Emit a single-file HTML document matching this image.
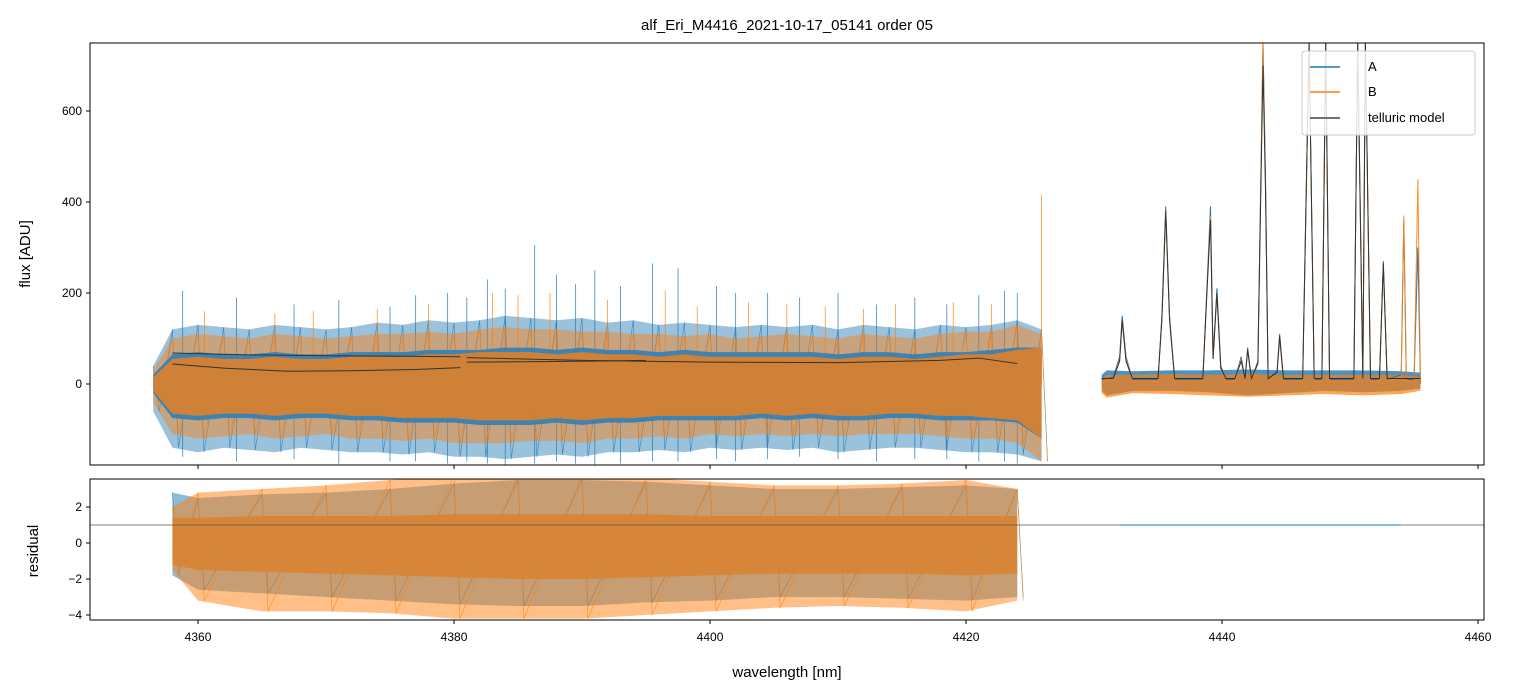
<!DOCTYPE html>
<html><head><meta charset="utf-8">
<style>
body{margin:0;background:#fff;}
svg{display:block;font-family:"Liberation Sans",sans-serif;}
</style></head>
<body>
<svg id="chart" width="1513" height="696" xmlns="http://www.w3.org/2000/svg">
<defs>
<clipPath id="cTop"><rect x="90" y="43" width="1394" height="422"/></clipPath>
<clipPath id="cBot"><rect x="90" y="479" width="1394" height="141"/></clipPath>
</defs>
<text x="787" y="30" text-anchor="middle" font-size="15">alf_Eri_M4416_2021-10-17_05141  order 05</text>
<g id="gtop" clip-path="url(#cTop)"></g>
<g id="gbot" clip-path="url(#cBot)"></g>
<rect x="90" y="43" width="1394" height="422" fill="none" stroke="#000" stroke-width="1"/>
<rect x="90" y="479" width="1394" height="141" fill="none" stroke="#000" stroke-width="1"/>
<g id="axes"></g>
<text transform="translate(30,254) rotate(-90)" text-anchor="middle" font-size="15">flux [ADU]</text>
<text transform="translate(38,551) rotate(-90)" text-anchor="middle" font-size="15">residual</text>
<text x="787" y="677" text-anchor="middle" font-size="15">wavelength [nm]</text>
<g>
<rect x="1302" y="51" width="173" height="84" fill="#fff" fill-opacity="0.85" stroke="#ccc" rx="3"/>
<line x1="1310" y1="67" x2="1340" y2="67" stroke="#1f77b4" stroke-width="1.5"/>
<text x="1368" y="71" font-size="13">A</text>
<line x1="1310" y1="92" x2="1340" y2="92" stroke="#ff7f0e" stroke-width="1.5"/>
<text x="1368" y="96" font-size="13">B</text>
<line x1="1310" y1="118" x2="1340" y2="118" stroke="#444" stroke-width="1.5"/>
<text x="1368" y="122" font-size="13">telluric model</text>
</g>
</svg>
<script>
const xTicks=[4360,4380,4400,4420,4440,4460];
const yTicksTop=[0,200,400,600];
const yTicksBot=[-4,-2,0,2];
const envWl=[4356.5,4358,4360,4362,4364,4366,4368,4370,4372,4374,4376,4378,4380,4382,4384,4386,4388,4390,4392,4394,4396,4398,4400,4402,4404,4406,4408,4410,4412,4414,4416,4418,4420,4422,4424,4425.9];
const aHi=[40,120,130,125,120,130,125,120,125,135,130,140,135,140,150,145,140,145,135,140,130,135,130,125,130,125,130,120,130,125,120,130,125,130,140,120];
const aLo=[-60,-140,-150,-140,-145,-150,-140,-145,-150,-150,-155,-150,-160,-160,-165,-160,-155,-160,-150,-150,-145,-150,-140,-145,-140,-145,-140,-150,-145,-140,-140,-145,-150,-150,-155,-170];
const bHi=[30,100,110,105,100,110,105,100,105,110,110,115,110,120,125,120,120,115,115,110,110,105,110,100,105,110,105,100,110,105,100,110,115,115,130,110];
const bLo=[-40,-110,-120,-115,-110,-120,-115,-110,-120,-120,-125,-120,-130,-130,-130,-125,-125,-130,-120,-120,-115,-120,-110,-115,-110,-115,-110,-115,-110,-110,-110,-115,-120,-120,-130,-170];
const aCoreHi=[20,65,70,65,65,70,65,65,70,70,70,75,75,75,80,80,75,80,75,75,70,75,70,70,70,70,70,65,70,70,65,70,70,75,80,80];
const aCoreLo=[-20,-75,-80,-75,-75,-80,-75,-75,-80,-80,-85,-85,-85,-90,-90,-90,-85,-90,-85,-85,-80,-80,-80,-80,-75,-80,-75,-80,-80,-75,-75,-80,-80,-80,-85,-120];
const bCoreHi=[15,55,60,55,55,60,55,55,60,60,60,65,65,70,70,70,65,70,65,65,60,65,60,60,60,60,60,55,60,60,55,60,65,65,75,80];
const bCoreLo=[-15,-65,-70,-65,-65,-70,-65,-65,-70,-70,-75,-75,-75,-80,-80,-80,-75,-80,-75,-75,-70,-70,-70,-70,-65,-70,-65,-70,-70,-65,-65,-70,-70,-75,-80,-120];
const aSpikeWl=[4358.8,4363,4367.5,4371,4375,4377,4379.5,4381,4382.6,4384,4386.3,4388,4389.5,4391,4393,4395.5,4397.5,4400.5,4402,4404.5,4407,4410,4413,4416,4418.5,4421,4423,4424];
const aSpikeV=[205,190,175,185,170,195,200,190,230,210,305,240,220,250,215,265,255,215,200,200,190,200,175,190,175,195,205,200];
const aSpikeLow=[-160,-170,-165,-175,-170,-170,-175,-170,-175,-180,-175,-170,-175,-180,-175,-170,-170,-165,-170,-165,-160,-165,-170,-165,-165,-170,-170,-175];
const bSpikeWl=[4360.5,4366,4369,4374,4378,4383,4385,4387.5,4392,4396.5,4399,4403,4406,4409,4412,4414.5,4419,4422,4425.9];
const bSpikeV=[160,155,160,165,175,200,195,200,185,205,170,180,175,170,165,175,180,175,415];
const rWl=[4430.6,4431.5,4432.0,4432.2,4432.5,4433,4435.0,4435.3,4435.6,4435.9,4436.3,4438.5,4438.8,4439.1,4439.3,4439.6,4439.9,4440.3,4441.0,4441.5,4441.8,4442.0,4442.3,4442.8,4443.2,4443.4,4443.6,4444.3,4444.5,4444.8,4446.3,4446.8,4447.2,4447.8,4448.1,4448.4,4449.5,4450.3,4450.6,4451.0,4451.2,4451.6,4452.3,4452.6,4452.9,4454.0,4454.2,4454.4,4455.0,4455.3,4455.5];
const rA=[10,15,60,150,60,10,10,150,390,150,10,10,200,390,60,210,40,10,10,60,10,80,10,50,750,450,10,30,110,10,10,750,10,10,750,10,10,10,750,10,750,10,10,270,10,20,360,10,10,300,0];
const rB=[5,10,55,140,55,5,5,145,380,145,5,5,190,370,55,200,35,5,5,55,5,75,5,45,750,430,5,25,100,5,5,750,5,5,750,5,5,5,750,5,750,5,5,260,5,15,370,5,5,450,0];
const rModel=[12,12,50,140,50,12,12,140,380,140,12,12,190,360,55,200,35,12,12,50,12,75,12,45,700,420,12,25,105,12,12,750,12,12,750,12,12,12,750,12,750,12,12,265,12,12,12,12,12,12,12];
const rNoiseWl=[4430.6,4431,4433,4436,4439,4442,4445,4448,4451,4454,4455.5];
const rNoiseAHi=[20,30,28,30,30,32,30,30,30,28,25];
const rNoiseALo=[-15,-25,-15,-15,-18,-25,-20,-15,-18,-15,-10];
const rNoiseBHi=[12,20,20,22,20,22,20,20,20,20,15];
const rNoiseBLo=[-20,-30,-20,-22,-25,-28,-25,-22,-25,-22,-15];
const tWl1=[4358,4364,4370,4376,4380.5];
const t1=[68,64,62,61,60];
const tWl2=[4358,4362,4367,4372,4377,4380.5];
const t2=[44,35,28,29,32,36];
const tWl3=[4381,4390,4400,4410,4418,4421,4424];
const t3=[58,52,48,47,52,57,45];
const tWl4=[4381,4390,4395];
const t4=[48,50,52];
const resWl=[4358,4360,4365,4370,4375,4380,4385,4390,4395,4400,4405,4410,4415,4420,4424];
const resAHi=[2.8,2.5,2.7,2.8,3.0,3.3,3.5,3.5,3.4,3.2,3.0,3.0,3.1,3.2,3.0];
const resALo=[-1.8,-2.6,-2.8,-3.0,-3.2,-3.4,-3.5,-3.5,-3.3,-3.2,-3.0,-3.0,-3.1,-3.2,-3.0];
const resBHi=[2.0,2.8,3.0,3.2,3.5,3.8,3.8,3.8,3.6,3.4,3.2,3.2,3.3,3.5,3.0];
const resBLo=[-1.5,-3.2,-3.8,-3.8,-3.9,-4.2,-4.2,-4.2,-4.0,-3.8,-3.6,-3.5,-3.6,-3.8,-3.2];
const resCoreHi=[1.4,1.4,1.5,1.5,1.5,1.6,1.6,1.6,1.6,1.5,1.5,1.5,1.5,1.5,1.5];
const resCoreLo=[-1.2,-1.5,-1.6,-1.7,-1.8,-1.9,-2.0,-2.0,-1.9,-1.8,-1.7,-1.7,-1.7,-1.8,-1.7];
const resFlatWl=[4432,4454];
const resFlat=[1.0,1.0];

{
const X=w=>90+(w-4351.56)*12.8;
const YT=v=>384-v*0.455;
const YB=v=>543-v*18;
const NS="http://www.w3.org/2000/svg";
function mk(tag,attrs,parent){const e=document.createElementNS(NS,tag);for(const k in attrs)e.setAttribute(k,attrs[k]);parent.appendChild(e);return e;}
const gTop=document.getElementById('gtop'),gBot=document.getElementById('gbot'),ax=document.getElementById('axes');

function band(parent,wl,hi,lo,Y,color,op,name,trace){
  let pts=wl.map((w,i)=>X(w)+','+Y(hi[i]));
  for(let i=wl.length-1;i>=0;i--)pts.push(X(wl[i])+','+Y(lo[i]));
  const p=mk('polygon',{points:pts.join(' '),fill:color,'fill-opacity':op,stroke:'none'},parent);
  
  
  if(trace){
    let z=[];wl.forEach((w,i)=>{z.push(X(w)+','+Y(hi[i]));z.push((X(w)+6)+','+Y(lo[i]));});
    const l=mk('polyline',{points:z.join(' '),fill:'none',stroke:color,'stroke-width':0.6,'stroke-opacity':0.8},parent);
    
    
  }
}
function spikes(parent,wl,v,low,Y,color,name){
  wl.forEach((w,i)=>{
    const l=mk('line',{x1:X(w),x2:X(w),y1:Y(v[i]),y2:Y(low?low[i]:0),stroke:color,'stroke-width':0.8,'stroke-opacity':0.85},parent);
    
    
  });
}
function line(parent,wl,v,Y,color,wd,name,op){
  const l=mk('polyline',{points:wl.map((w,i)=>X(w)+','+Y(v[i])).join(' '),fill:'none',stroke:color,'stroke-width':wd,'stroke-opacity':op||1},parent);
  
  
}
band(gTop,envWl,aHi,aLo,YT,'#1f77b4',0.45,'series-a-band',true);
spikes(gTop,aSpikeWl,aSpikeV,aSpikeLow,YT,'#1f77b4','series-a-spike');
band(gTop,envWl,bHi,bLo,YT,'#ff7f0e',0.45,'series-b-band',true);
spikes(gTop,bSpikeWl,bSpikeV,null,YT,'#ff7f0e','series-b-spike');
band(gTop,envWl,aCoreHi,aCoreLo,YT,'#2f7fb8',0.9,'series-a-core',false);
band(gTop,envWl,bCoreHi,bCoreLo,YT,'#e0812a',0.9,'series-b-core',false);
line(gTop,tWl1,t1,YT,'#333',1,'telluric-model-line');
line(gTop,tWl2,t2,YT,'#333',1,'telluric-model-line');
line(gTop,tWl3,t3,YT,'#333',1,'telluric-model-line');
line(gTop,tWl4,t4,YT,'#333',1,'telluric-model-line');
band(gTop,rNoiseWl,rNoiseAHi,rNoiseALo,YT,'#1f77b4',0.8,'series-a-right-noise',false);
band(gTop,rNoiseWl,rNoiseBHi,rNoiseBLo,YT,'#ff7f0e',0.7,'series-b-right-noise',false);
line(gTop,rWl,rA,YT,'#1f77b4',1,'series-a-right');
line(gTop,rWl,rB,YT,'#ff7f0e',1,'series-b-right',0.9);
line(gTop,rWl,rModel,YT,'#333',1,'telluric-model-right');
band(gBot,resWl,resAHi,resALo,YB,'#1f77b4',0.5,'residual-a-band',true);
band(gBot,resWl,resBHi,resBLo,YB,'#ff7f0e',0.5,'residual-b-band',true);
band(gBot,resWl,resCoreHi,resCoreLo,YB,'#d9822f',0.85,'residual-core',false);
const ref=mk('line',{x1:90,x2:1484,y1:YB(1),y2:YB(1),stroke:'#555','stroke-width':0.7},gBot);


line(gBot,resFlatWl,resFlat,YB,'#1f77b4',1,'residual-a-flat');
xTicks.forEach(t=>{
  const x=X(t);
  mk('line',{x1:x,x2:x,y1:465,y2:469,stroke:'#000'},ax);
  mk('line',{x1:x,x2:x,y1:620,y2:624,stroke:'#000'},ax);
  const tx=mk('text',{x:x,y:641,'text-anchor':'middle','font-size':12},ax);tx.textContent=t;
  
  
});
yTicksTop.forEach(t=>{
  const y=YT(t);
  mk('line',{x1:86,x2:90,y1:y,y2:y,stroke:'#000'},ax);
  const tx=mk('text',{x:82,y:y+4,'text-anchor':'end','font-size':12},ax);tx.textContent=t;
  
  
});
yTicksBot.forEach(t=>{
  const y=YB(t);
  mk('line',{x1:86,x2:90,y1:y,y2:y,stroke:'#000'},ax);
  const tx=mk('text',{x:82,y:y+4,'text-anchor':'end','font-size':12},ax);tx.textContent=t<0?'\u2212'+(-t):t;
  
  
});
}
</script>
</body></html>
